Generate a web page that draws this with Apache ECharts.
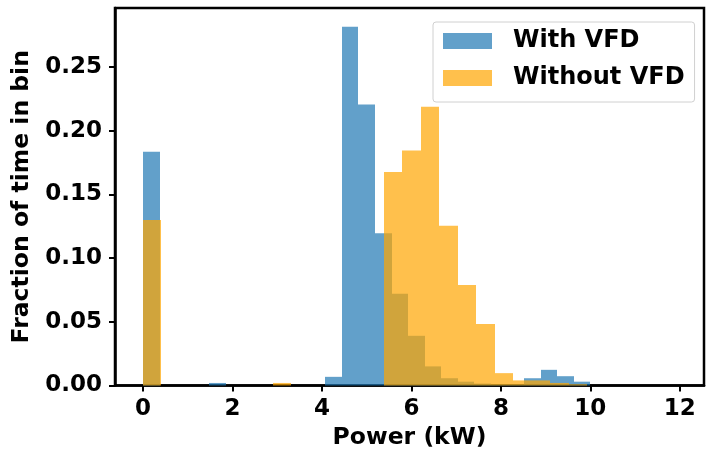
<!DOCTYPE html>
<html>
<head>
<meta charset="utf-8">
<script src="https://cdn.jsdelivr.net/npm/echarts@6/dist/echarts.min.js"></script>
<style>
html,body{margin:0;padding:0;background:#fff;}
#chart{width:706px;height:456px;}
</style>
</head>
<body>
<div id="chart"></div>
<script>
// Histogram bin widths (kW) — each series was binned separately starting at 0
const withVfdBinWidth = 0.3704;
const withoutVfdBinWidth = 0.414;
// Fraction of time in each bin
const withVfdValues = [0.1835, 0, 0, 0, 0.002, 0, 0, 0, 0, 0, 0, 0.0068, 0.2816, 0.2205, 0.1195, 0.072, 0.039, 0.015, 0.0057, 0.003, 0.0015, 0.001, 0.001, 0.0057, 0.0123, 0.0073, 0.003, 0, 0];
const withoutVfdValues = [0.1299, 0, 0, 0, 0, 0, 0, 0.002, 0, 0, 0, 0, 0, 0.1675, 0.1845, 0.2187, 0.1254, 0.0789, 0.0483, 0.0097, 0.004, 0.004, 0.002, 0.001, 0, 0, 0, 0, 0];
const xTicks = [0, 2, 4, 6, 8, 10, 12];
const yTicks = [0, 0.05, 0.10, 0.15, 0.20, 0.25];
const seriesNames = ['With VFD', 'Without VFD'];

function toBins(values, width) {
  return values.map((v, i) => [i * width, (i + 1) * width, v]);
}

const FONT = 'DejaVu Sans';

function renderBar(params, api) {
  const x0 = api.value(0), x1 = api.value(1), y = api.value(2);
  if (!y) return null;
  const p0 = api.coord([x0, 0]);
  const p1 = api.coord([x1, y]);
  const left = Math.round(p0[0]);
  const right = Math.round(p1[0]);
  return {
    type: 'rect',
    shape: { x: left, y: p1[1], width: right - left, height: p0[1] - p1[1] },
    style: { fill: api.visual('color') }
  };
}

const chart = echarts.init(document.getElementById('chart'), null, { renderer: 'canvas' });
chart.setOption({
  animation: false,
  backgroundColor: '#fff',
  grid: {
    left: 115, right: 2, top: 8, bottom: 70.5,
    show: true, borderColor: '#000', borderWidth: 2.5, backgroundColor: '#fff',
    containLabel: false
  },
  legend: {
    orient: 'vertical',
    left: 433, top: 22,
    icon: 'rect',
    itemWidth: 49, itemHeight: 16,
    itemGap: 13,
    padding: [7, 10, 12, 10],
    borderColor: '#d0d0d0', borderWidth: 1, borderRadius: 3,
    backgroundColor: 'rgba(255,255,255,0.85)',
    textStyle: { fontFamily: FONT, fontWeight: 'bold', fontSize: 24, color: '#000', lineHeight: 24, padding: [0, 0, 0, 16] },
    data: seriesNames
  },
  xAxis: {
    type: 'value',
    min: -0.625, max: 12.54,
    name: 'Power (kW)',
    nameLocation: 'middle',
    nameGap: 36,
    nameTextStyle: { fontFamily: FONT, fontWeight: 'bold', fontSize: 23.5, color: '#000' },
    splitLine: { show: false },
    axisLine: { show: true, onZero: false, lineStyle: { color: '#000', width: 2.5 } },
    axisTick: { show: true, inside: false, length: 6, lineStyle: { color: '#000', width: 2 }, customValues: xTicks },
    axisLabel: { fontFamily: FONT, fontWeight: 'bold', fontSize: 23, color: '#000', margin: 12, customValues: xTicks, formatter: v => String(v) }
  },
  yAxis: {
    type: 'value',
    min: 0, max: 0.2963,
    name: 'Fraction of time in bin',
    nameLocation: 'middle',
    nameGap: 81,
    nameTextStyle: { fontFamily: FONT, fontWeight: 'bold', fontSize: 23.5, color: '#000' },
    splitLine: { show: false },
    axisLine: { show: true, onZero: false, lineStyle: { color: '#000', width: 2.5 } },
    axisTick: { show: true, inside: false, length: 6, lineStyle: { color: '#000', width: 2 }, customValues: yTicks },
    axisLabel: { fontFamily: FONT, fontWeight: 'bold', fontSize: 23, color: '#000', margin: 13, customValues: yTicks, formatter: v => v.toFixed(2) }
  },
  series: [
    {
      name: seriesNames[0],
      type: 'custom',
      renderItem: renderBar,
      itemStyle: { color: 'rgba(31,119,180,0.7)' },
      encode: { x: [0, 1], y: 2 },
      data: toBins(withVfdValues, withVfdBinWidth)
    },
    {
      name: seriesNames[1],
      type: 'custom',
      renderItem: renderBar,
      itemStyle: { color: 'rgba(255,165,0,0.7)' },
      encode: { x: [0, 1], y: 2 },
      data: toBins(withoutVfdValues, withoutVfdBinWidth)
    }
  ]
});
</script>
</body>
</html>
